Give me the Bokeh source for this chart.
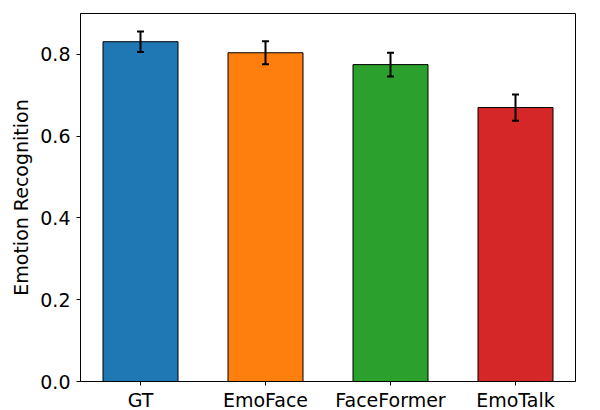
from bokeh.plotting import figure
from bokeh.models import ColumnDataSource, Range1d, FixedTicker, PrintfTickFormatter, Whisker, TeeHead
from bokeh.embed import file_html
from bokeh.resources import INLINE

categories = ["GT", "EmoFace", "FaceFormer", "EmoTalk"]
values = [0.831, 0.804, 0.775, 0.670]
errors = [0.025, 0.028, 0.029, 0.032]
colors = ["#1f77b4", "#ff7f0e", "#2ca02c", "#d62728"]
y_ticks = [0.0, 0.2, 0.4, 0.6, 0.8]

xs = list(range(len(categories)))
src = ColumnDataSource(dict(
    x=xs, top=values, color=colors,
    upper=[v + e for v, e in zip(values, errors)],
    lower=[v - e for v, e in zip(values, errors)],
))

FONT = "DejaVu Sans"

p = figure(frame_width=495, frame_height=368, output_backend="svg", toolbar_location=None,
           x_range=Range1d(-0.48, 3.48), y_range=Range1d(0, 0.9),
           min_border_left=80, min_border_right=14, min_border_top=13, min_border_bottom=26)

p.vbar(x="x", top="top", bottom=0, width=0.6, fill_color="color", line_color="black",
       line_width=1, source=src)

w = Whisker(base="x", upper="upper", lower="lower", source=src, line_color="black", line_width=2,
            level="overlay",
            upper_head=TeeHead(size=7, line_color="black", line_width=2),
            lower_head=TeeHead(size=7, line_color="black", line_width=2))
p.add_layout(w)

p.grid.visible = False
p.outline_line_color = "black"
p.outline_line_width = 1
p.outline_line_alpha = 1

p.xaxis.ticker = FixedTicker(ticks=xs)
p.xaxis.major_label_overrides = {i: c for i, c in enumerate(categories)}
p.yaxis.ticker = FixedTicker(ticks=y_ticks)
p.yaxis.formatter = PrintfTickFormatter(format="%.1f")
p.yaxis.axis_label = "Emotion Recognition"

for ax in (p.xaxis[0], p.yaxis[0]):
    ax.axis_line_color = "black"
    ax.major_tick_line_color = "black"
    ax.major_tick_out = 4
    ax.major_tick_in = 0
    ax.minor_tick_line_color = None
    ax.major_label_text_font = FONT
    ax.major_label_text_font_size = "19px"
    ax.major_label_text_color = "black"
    ax.major_label_standoff = 6
    ax.axis_label_text_font = FONT
    ax.axis_label_text_font_size = "19px"
    ax.axis_label_text_font_style = "normal"
    ax.axis_label_text_color = "black"
    ax.axis_label_standoff = 5

p.xaxis[0].major_label_standoff = 3

open("out.html", "w").write(file_html(p, INLINE))
